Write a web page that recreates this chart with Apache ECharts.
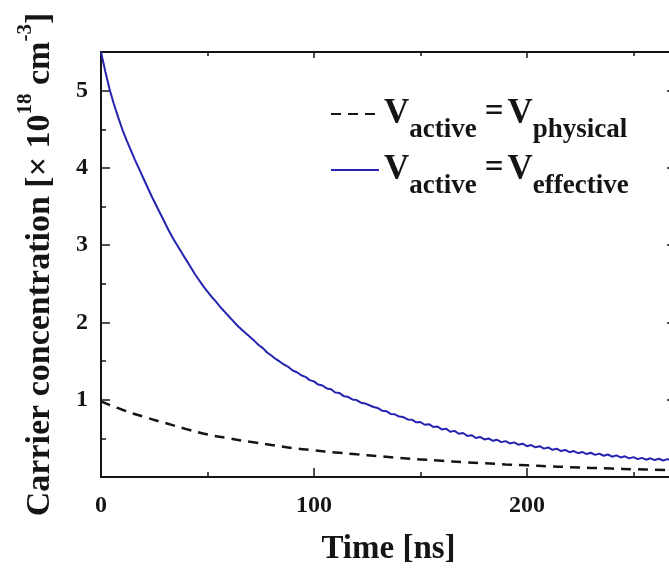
<!DOCTYPE html>
<html>
<head>
<meta charset="utf-8">
<script src="https://cdn.jsdelivr.net/npm/echarts@6/dist/echarts.min.js"></script>
<style>
html, body { margin: 0; padding: 0; background: #fff; }
#chart { width: 669px; height: 571px; }
</style>
</head>
<body>
<div id="chart"></div>
<script>
var effectiveStep = 2;
var effectiveValues = [
    5.50, 5.25, 5.02, 4.83, 4.66, 4.50, 4.36, 4.23, 4.10, 3.98,
    3.86, 3.74, 3.62, 3.51, 3.40, 3.29, 3.18, 3.08, 2.99, 2.90,
    2.81, 2.72, 2.63, 2.55, 2.47, 2.40, 2.33, 2.27, 2.20, 2.14,
    2.08, 2.02, 1.96, 1.91, 1.86, 1.812, 1.762, 1.708, 1.668, 1.612,
    1.572, 1.528, 1.492, 1.455, 1.424, 1.378, 1.356, 1.316, 1.296, 1.254,
    1.238, 1.196, 1.184, 1.146, 1.136, 1.094, 1.086, 1.046, 1.038, 1.004,
    0.996, 0.962, 0.952, 0.928, 0.906, 0.892, 0.858, 0.852, 0.816, 0.812,
    0.782, 0.776, 0.745, 0.742, 0.708, 0.712, 0.676, 0.684, 0.648, 0.654,
    0.616, 0.626, 0.586, 0.597, 0.560, 0.569, 0.532, 0.541, 0.505, 0.518,
    0.486, 0.499, 0.468, 0.481, 0.451, 0.464, 0.434, 0.448, 0.418, 0.431,
    0.399, 0.414, 0.384, 0.398, 0.367, 0.382, 0.352, 0.366, 0.336, 0.350,
    0.321, 0.336, 0.308, 0.324, 0.297, 0.314, 0.286, 0.302, 0.275, 0.291,
    0.263, 0.280, 0.253, 0.268, 0.241, 0.257, 0.231, 0.248, 0.224, 0.242,
    0.219, 0.236, 0.213, 0.231, 0.209, 0.226
];
var physicalStep = 10;
var physicalValues = [
    0.98, 0.87, 0.78, 0.70, 0.62, 0.55, 0.50, 0.455, 0.415, 0.375,
    0.345, 0.318, 0.293, 0.270, 0.248, 0.228, 0.210, 0.193, 0.178, 0.163,
    0.151, 0.139, 0.128, 0.118, 0.109, 0.101, 0.094, 0.088
];
var seriesNames = ['physical', 'effective'];

var font = 'Liberation Serif';
var ink = '#151515';

function pairs(step, vals) {
    return vals.map(function (v, i) { return [i * step, v]; });
}

function frameAxis(pos, interval, len, showLine, max) {
    return {
        type: 'value', position: pos, min: 0, max: max, interval: interval,
        axisLine: { show: showLine, onZero: false, lineStyle: { color: ink, width: 2 } },
        axisTick: { show: true, inside: true, length: len, lineStyle: { color: ink, width: 1.5 } },
        axisLabel: { show: false },
        splitLine: { show: false }
    };
}

var xMain = frameAxis('bottom', 100, 9, true, 270);
xMain.axisLabel = {
    show: true, margin: 17, fontSize: 24, fontWeight: 'bold', fontFamily: font, color: ink,
    showMaxLabel: false
};
xMain.name = 'Time [ns]';
xMain.nameLocation = 'middle';
xMain.nameGap = 56;
xMain.nameTextStyle = { fontSize: 33, fontWeight: 'bold', fontFamily: font, color: ink };

var yMain = frameAxis('left', 1, 9, true, 5.5);
yMain.axisLabel = {
    show: true, margin: 13, fontSize: 24, fontWeight: 'bold', fontFamily: font, color: ink,
    showMinLabel: false, showMaxLabel: false
};
yMain.name = '{n|Carrier concentration [× 10}{u|18}{n| cm}{u|-3}{n|]}';
yMain.nameLocation = 'middle';
yMain.nameGap = 50;
yMain.nameTextStyle = {
    rich: {
        n: { fontSize: 34, fontWeight: 'bold', fontFamily: font, color: ink,
             lineHeight: 36, verticalAlign: 'top', padding: [8, 0, 0, 0] },
        u: { fontSize: 21, fontWeight: 'bold', fontFamily: font, color: ink,
             lineHeight: 22, verticalAlign: 'top' }
    }
};

var legendRich = {
    v: { fontSize: 35, fontWeight: 'bold', fontFamily: font, color: ink,
         lineHeight: 36, verticalAlign: 'top' },
    s: { fontSize: 27, fontWeight: 'bold', fontFamily: font, color: ink,
         lineHeight: 26, verticalAlign: 'top', padding: [21, 0, 0, 0] },
    e: { fontSize: 33, fontWeight: 'bold', fontFamily: font, color: ink,
         lineHeight: 36, verticalAlign: 'top', padding: [0, 4, 0, 8] }
};

var option = {
    animation: false,
    backgroundColor: '#fff',
    grid: {
        left: 101, top: 52, right: -7, bottom: 94,
        containLabel: false, outerBoundsMode: 'none'
    },
    legend: {
        orient: 'vertical',
        left: 325,
        top: 91,
        itemWidth: 48,
        itemHeight: 14,
        itemGap: 8,
        data: seriesNames,
        formatter: function (name) {
            return '{v|V}{s|active}{e|=}{v|V}{s|' + name + '}';
        },
        itemStyle: { opacity: 0 },
        textStyle: { rich: legendRich }
    },
    xAxis: [
        xMain,
        frameAxis('bottom', 50, 5, false, 270),
        frameAxis('top', 100, 6, true, 270),
        frameAxis('top', 50, 4, false, 270)
    ],
    yAxis: [
        yMain,
        frameAxis('left', 0.5, 5, false, 5.5),
        frameAxis('right', 1, 9, true, 5.5),
        frameAxis('right', 0.5, 5, false, 5.5)
    ],
    series: [
        {
            name: 'physical', type: 'line', xAxisIndex: 0, yAxisIndex: 0,
            data: pairs(physicalStep, physicalValues),
            symbol: 'none', smooth: true,
            lineStyle: { color: ink, width: 2.5, type: [10, 7] },
            itemStyle: { color: ink }
        },
        {
            name: 'effective', type: 'line', xAxisIndex: 0, yAxisIndex: 0,
            data: pairs(effectiveStep, effectiveValues),
            symbol: 'none',
            lineStyle: { color: '#2424b0', width: 2 },
            itemStyle: { color: '#2424b0' }
        }
    ]
};

echarts.init(document.getElementById('chart')).setOption(option);
</script>
</body>
</html>
